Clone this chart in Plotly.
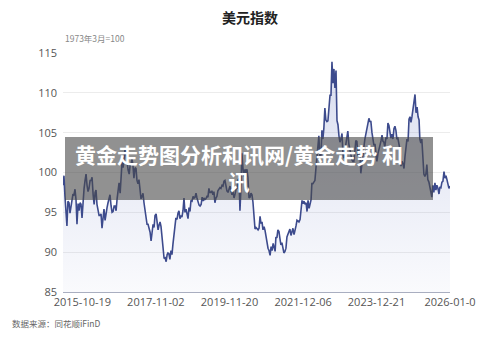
import plotly.graph_objects as go

# US Dollar Index (1973-03 = 100), three readings per month (~5th, 15th, 25th)
dxy_2015 = [98.4, 99.6, 97.0, 95.2, 93.3, 96.4, 96.2, 94.9, 95.6, 96.3, 97.3, 97.2,
            97.9, 96.6, 93.5, 96.1, 95.2, 96.2, 96.0, 94.3, 96.9, 98.0, 99.0, 99.8,
            98.4, 97.6, 98.0]  # Apr-Dec
dxy_2016 = [99.0, 99.0, 99.4, 97.2, 96.0, 97.5, 97.8, 96.0, 95.5, 94.6, 94.6, 94.8,
            93.0, 94.6, 95.4, 94.0, 95.0, 95.6, 96.2, 96.6, 97.2, 95.8, 95.0, 95.1,
            95.8, 95.8, 95.2, 96.7, 98.0, 98.7, 97.4, 99.8, 101.5, 100.6, 102.5, 103.0]
dxy_2017 = [102.3, 101.2, 100.3, 99.8, 101.0, 101.1, 101.7, 100.9, 99.3, 100.6, 100.5, 99.0,
            98.6, 99.1, 97.3, 96.7, 97.0, 97.4, 96.2, 95.2, 94.0, 93.5, 93.5, 92.9,
            92.5, 91.4, 92.9, 93.5, 93.1, 94.6, 94.8, 93.8, 92.8, 93.4, 93.8, 93.2]
dxy_2018 = [91.9, 90.7, 89.2, 89.3, 88.8, 89.7, 89.9, 89.8, 89.1, 90.2, 89.7, 91.0,
            92.6, 93.2, 94.3, 94.1, 94.9, 95.2, 94.2, 94.6, 94.4, 95.2, 96.8, 95.0,
            95.4, 94.8, 94.2, 95.6, 95.1, 96.5, 96.4, 97.0, 96.8, 96.9, 97.4, 96.8]
dxy_2019 = [96.2, 95.9, 95.8, 96.0, 96.9, 96.4, 96.8, 96.6, 96.7, 97.0, 96.9, 98.0,
            97.5, 97.5, 97.7, 97.2, 97.6, 96.2, 96.8, 97.0, 97.7, 97.9, 98.1, 98.0,
            98.4, 98.3, 98.9, 99.0, 98.3, 97.7, 97.5, 98.0, 98.3, 97.7, 97.2, 97.6]
dxy_2020 = [96.8, 97.3, 97.9, 98.0, 99.1, 99.2, 95.2, 98.0, 102.4, 100.5, 99.5, 100.4,
            99.9, 100.4, 99.4, 96.8, 96.9, 97.4, 97.2, 96.3, 94.4, 92.9, 93.1, 93.0,
            92.8, 93.0, 94.5, 93.6, 93.8, 92.8, 93.2, 92.7, 92.0, 90.8, 90.5, 90.2]
dxy_2021 = [89.6, 90.7, 90.2, 91.1, 90.4, 90.1, 91.9, 91.8, 92.8, 92.6, 91.7, 90.9,
            91.2, 90.3, 89.9, 90.1, 90.5, 91.9, 92.3, 92.6, 92.9, 92.1, 92.5, 93.0,
            92.2, 92.6, 93.3, 94.0, 93.9, 93.8, 94.1, 95.1, 96.5, 96.1, 96.4, 96.0]
dxy_2022 = [96.2, 95.1, 96.5, 95.5, 96.0, 96.6, 98.6, 98.6, 98.8, 99.0, 100.5, 102.0,
            103.6, 104.6, 101.9, 102.2, 105.3, 104.2, 105.6, 108.1, 106.6, 106.4, 106.5, 108.6,
            109.7, 109.7, 113.9, 111.2, 113.0, 110.6, 112.8, 106.5, 106.0, 104.6, 103.8, 104.2]
dxy_2023 = [104.9, 102.2, 101.8, 102.9, 103.9, 104.7, 105.2, 103.6, 102.9, 101.9, 101.6, 101.4,
            101.4, 102.6, 104.0, 103.9, 102.1, 102.9, 103.0, 99.9, 101.3, 102.0, 103.2, 104.2,
            104.8, 105.3, 106.0, 106.8, 106.4, 106.4, 105.0, 104.1, 103.4, 103.6, 102.0, 101.4]
dxy_2024 = [102.4, 102.8, 103.4, 104.0, 104.7, 103.9, 103.8, 103.2, 104.4, 104.2, 106.2, 105.9,
            105.1, 104.3, 104.8, 104.2, 105.5, 105.8, 105.3, 104.2, 104.3, 103.2, 102.9, 100.8,
            101.4, 101.1, 100.5, 102.0, 103.3, 104.2, 103.9, 106.7, 107.0, 106.3, 107.0, 108.0]
dxy_2025 = [109.0, 109.8, 107.5, 108.2, 107.0, 106.6, 104.2, 103.7, 104.2, 102.2, 99.8, 99.5,
            99.8, 101.0, 99.1, 98.8, 98.1, 97.6, 96.9, 98.4, 97.5, 98.7, 97.8, 98.4,
            98.0, 97.3, 98.2, 98.1, 98.8, 98.9, 100.1, 99.3, 99.6, 99.1, 98.4, 98.0]
dxy_2026 = [98.3]

tick_dates = ["2015-10-19", "2017-11-02", "2019-11-20", "2021-12-06", "2023-12-21", "2026-01-05"]
tick_labels = ["2015-10-19", "2017-11-02", "2019-11-20", "2021-12-06", "2023-12-21", "2026-01-0"]
y_ticks = [85, 90, 95, 100, 105, 110, 115]

series_blocks = [(2015, 4, dxy_2015), (2016, 1, dxy_2016), (2017, 1, dxy_2017),
                 (2018, 1, dxy_2018), (2019, 1, dxy_2019), (2020, 1, dxy_2020),
                 (2021, 1, dxy_2021), (2022, 1, dxy_2022), (2023, 1, dxy_2023),
                 (2024, 1, dxy_2024), (2025, 1, dxy_2025), (2026, 1, dxy_2026)]
days = [5, 15, 25]
dates, values = [], []
for year, m0, vals in series_blocks:
    for i, v in enumerate(vals):
        dates.append(f"{year}-{m0 + i // 3:02d}-{days[i % 3]:02d}")
        values.append(v)

fig = go.Figure()
fig.add_trace(go.Scatter(
    x=dates, y=values, mode="lines",
    line=dict(color="#3d4b8d", width=1.6),
    fill="tozeroy",
    fillgradient=dict(type="vertical",
                      colorscale=[[0, "rgba(120,135,200,0.04)"], [1, "rgba(120,135,200,0.28)"]],
                      start=85, stop=114),
    hoverinfo="skip", showlegend=False,
))

L, R, T, B = 63, 50, 53, 46
W, H = 500, 338
pw, ph = W - L - R, H - T - B

def px(x):
    return (x - L) / pw

def py(y):
    return (H - B - y) / ph

fig.update_layout(
    width=W, height=H,
    margin=dict(l=L, r=R, t=T, b=B, autoexpand=False),
    paper_bgcolor="white", plot_bgcolor="white",
    title=dict(text="美元指数", x=0.5, xref="container", xanchor="center",
               y=1 - 18 / H, yref="container", yanchor="middle",
               font=dict(family="Noto Sans CJK SC", size=14, weight="bold", color="#222222")),
    xaxis=dict(type="date", range=["2015-04-05", "2026-01-05"],
               tickmode="array", tickvals=tick_dates, ticktext=tick_labels,
               showgrid=False, showline=True, linecolor="#a9aec0", linewidth=1,
               ticks="", zeroline=False,
               tickfont=dict(family="Open Sans", size=11, color="#555555")),
    yaxis=dict(range=[85, 115], tickmode="array", tickvals=y_ticks,
               showgrid=True, gridcolor="#ececec", gridwidth=1,
               showline=False, zeroline=False, ticks="", ticklabelstandoff=5,
               tickfont=dict(family="Open Sans", size=11, color="#555555")),
    shapes=[dict(type="rect", xref="paper", yref="paper",
                 x0=px(65), x1=px(433), y0=py(200), y1=py(137),
                 fillcolor="rgba(72,72,72,0.6)", line=dict(width=0), layer="above")],
    annotations=[
        dict(text="1973年3月=100", xref="paper", yref="paper", x=0, y=py(38),
             xanchor="left", yanchor="middle", showarrow=False,
             font=dict(family="Noto Sans CJK SC", size=8.5, color="#888888")),
        dict(text="数据来源：同花顺iFinD", xref="paper", yref="paper", x=px(10), y=py(323),
             xanchor="left", yanchor="middle", showarrow=False,
             font=dict(family="Noto Sans CJK SC", size=8.5, color="#666666")),
        dict(text="黄金走势图分析和讯网/黄金走势 和<br>讯", xref="paper", yref="paper",
             x=px(239), y=py(167.5), xanchor="center", yanchor="middle", showarrow=False,
             align="center",
             font=dict(family="Noto Sans CJK SC", size=21, weight="bold", color="white")),
    ],
)

fig.write_html("out.html")
